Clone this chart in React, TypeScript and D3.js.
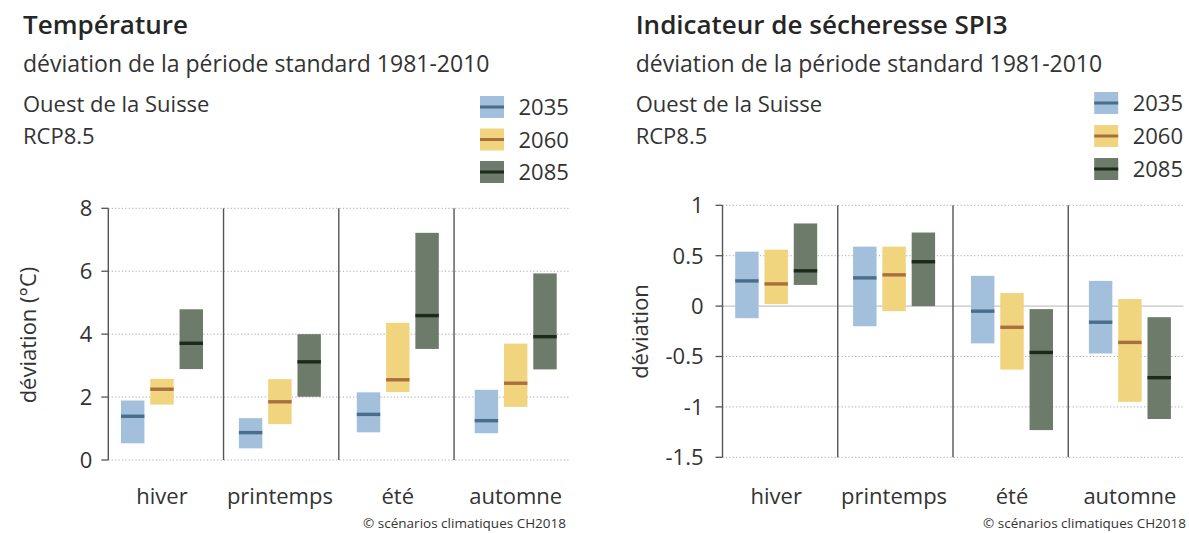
import React from "react";
import * as d3 from "d3";

const seasons = ["hiver", "printemps", "été", "automne"];
const years = ["2035", "2060", "2085"];

// [bas, médiane, haut] par saison
const temp2035 = [[0.53, 1.39, 1.89], [0.37, 0.87, 1.33], [0.88, 1.45, 2.15], [0.85, 1.25, 2.23]];
const temp2060 = [[1.76, 2.25, 2.58], [1.14, 1.85, 2.57], [2.16, 2.55, 4.36], [1.69, 2.44, 3.7]];
const temp2085 = [[2.89, 3.71, 4.79], [2.01, 3.12, 4.0], [3.53, 4.59, 7.22], [2.88, 3.92, 5.93]];

const spi2035 = [[-0.12, 0.25, 0.54], [-0.2, 0.28, 0.59], [-0.37, -0.05, 0.3], [-0.47, -0.16, 0.25]];
const spi2060 = [[0.02, 0.22, 0.56], [-0.05, 0.31, 0.59], [-0.63, -0.21, 0.13], [-0.95, -0.36, 0.07]];
const spi2085 = [[0.21, 0.35, 0.82], [0.0, 0.44, 0.73], [-1.23, -0.46, -0.03], [-1.12, -0.71, -0.11]];

const tempTicks = [0, 2, 4, 6, 8];
const tempTickLabels = ["0", "2", "4", "6", "8"];
const spiTicks = [-1.5, -1, -0.5, 0, 0.5, 1];
const spiTickLabels = ["-1.5", "-1", "-0.5", "0", "0.5", "1"];

const boxFill = ["#a2bfdb", "#f1d47e", "#6d7b6b"];
const medianFill = ["#4b6d8c", "#a8703e", "#1c2a1b"];

const FONT = "'Open Sans', 'Noto Sans', sans-serif";
const TEXT = "#333";

const Panel = ({ dx, title, titleX, yDomain, yRange, ticks, tickLabels, labelGap, yTitle, yTitleX, yTitleY, series, zeroLine, legendY }) => {
  const axisX = 108.3 + dx;
  const endX = 569.3 + dx;
  const y = d3.scaleLinear().domain(yDomain).range(yRange);
  const panels = d3.scaleBand().domain(seasons).range([axisX, endX]);
  const groups = d3.scaleBand().domain(seasons).range([121 + dx, 121 + dx + 4 * 117.9]);
  const bars = d3.scaleBand().domain(years).range([0, 82]).paddingInner(0.2);
  const top = y(yDomain[1]);
  const bottom = y(yDomain[0]);

  return (
    <g fontFamily={FONT} fill={TEXT}>
      <text x={titleX} y={34} fontSize={26} fontWeight={600} fill="#262626">{title}</text>
      <text x={titleX} y={72} fontSize={23}>déviation de la période standard 1981-2010</text>
      <text x={titleX} y={112} fontSize={22}>Ouest de la Suisse</text>
      <text x={titleX} y={144} fontSize={22}>RCP8.5</text>

      {years.map((yr, i) => (
        <g key={yr}>
          <rect x={480 + dx} y={legendY[i]} width={24} height={22} fill={boxFill[i]} />
          <rect x={480 + dx} y={legendY[i] + 9.5} width={24} height={3} fill={medianFill[i]} />
          <text x={518.5 + dx} y={legendY[i] + 19} fontSize={22}>{yr}</text>
        </g>
      ))}

      {ticks.map((t, i) => (
        <g key={t}>
          <line x1={axisX} x2={endX} y1={y(t)} y2={y(t)} stroke={zeroLine && t === 0 ? "#b5b5b5" : "#a8a8a8"}
            strokeWidth={1} strokeDasharray={zeroLine && t === 0 ? "none" : "1.2 2.2"} />
          <line x1={axisX - 7} x2={axisX} y1={y(t)} y2={y(t)} stroke="#555" strokeWidth={1.3} />
          <text x={axisX - labelGap} y={y(t)} dy="0.36em" textAnchor="end" fontSize={22}>{tickLabels[i]}</text>
        </g>
      ))}

      <line x1={axisX} x2={axisX} y1={top} y2={bottom} stroke="#555" strokeWidth={1.4} />
      {seasons.slice(1).map((s) => (
        <line key={s} x1={panels(s)} x2={panels(s)} y1={top} y2={bottom} stroke="#555" strokeWidth={1.4} />
      ))}

      {seasons.map((s, si) => (
        <g key={s}>
          {series.map((vals, yi) => {
            const [lo, med, hi] = vals[si];
            const x = groups(s) + bars(years[yi]);
            return (
              <g key={yi}>
                <rect x={x} y={y(hi)} width={bars.bandwidth()} height={y(lo) - y(hi)} fill={boxFill[yi]} />
                <rect x={x} y={y(med) - 1.7} width={bars.bandwidth()} height={3.4} fill={medianFill[yi]} />
              </g>
            );
          })}
          <text x={groups(s) + 41} y={504} textAnchor="middle" fontSize={22}>{s}</text>
        </g>
      ))}

      <text transform={`translate(${yTitleX},${yTitleY}) rotate(-90)`} textAnchor="middle" fontSize={22}>{yTitle}</text>
      <text x={566 + dx + (dx ? 5.8 : 0)} y={528} textAnchor="end" fontSize={13.5}>© scénarios climatiques CH2018</text>
    </g>
  );
};

export default function App() {
  return (
    <svg width={1189} height={533} viewBox="0 0 1189 533"
      style={{ position: "absolute", left: 0, top: 0, background: "#fff" }}>
      <Panel dx={0} title="Température" titleX={23} yDomain={[0, 8]} yRange={[460, 208.3]}
        ticks={tempTicks} tickLabels={tempTickLabels} labelGap={16}
        yTitle="déviation (°C)" yTitleX={36} yTitleY={335}
        series={[temp2035, temp2060, temp2085]} zeroLine={false} legendY={[96, 128.5, 161]} />
      <Panel dx={614.2} title="Indicateur de sécheresse SPI3" titleX={635.7} yDomain={[-1.5, 1]} yRange={[457.3, 205.3]}
        ticks={spiTicks} tickLabels={spiTickLabels} labelGap={19}
        yTitle="déviation" yTitleX={648} yTitleY={331.5}
        series={[spi2035, spi2060, spi2085]} zeroLine={true} legendY={[92, 125, 158]} />
    </svg>
  );
}
